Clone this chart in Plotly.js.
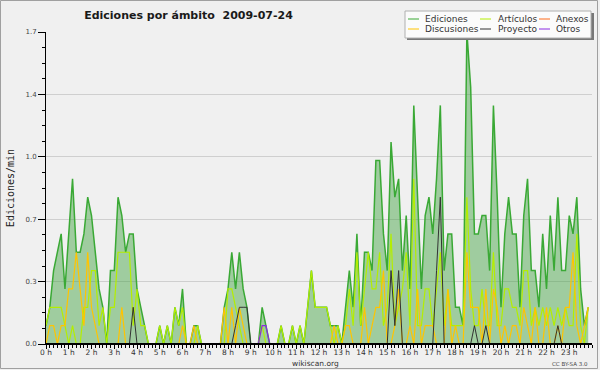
<!DOCTYPE html>
<html><head><meta charset="utf-8">
<script src="https://cdn.plot.ly/plotly-3.0.1.min.js"></script>
<style>html,body{margin:0;padding:0;background:#f0f0f0}#chart{width:600px;height:370px}</style>
</head><body><div id="chart"></div>
<script>
// 10-minute slots, edits per minute
const ediciones = [
 0.1,0.2,0.4,0.5,0.6,0.3,0.6,0.9,0.5,0.5,0.6,0.8,
 0.7,0.5,0.3,0.2,0.0,0.4,0.4,0.8,0.7,0.5,0.6,0.6,
 0.3,0.2,0.1,0,0,0,0.1,0,0.1,0,0.2,0.1,
 0.3,0,0,0.1,0.1,0,0,0,0,0,0,0.2,
 0.3,0.5,0.3,0.5,0.3,0.2,0,0,0,0.2,0.1,0,
 0,0,0.1,0,0,0.1,0,0.1,0,0.2,0.4,0.2,
 0.2,0.2,0.2,0.1,0.1,0.1,0,0.2,0.4,0.2,0.6,0.1,
 0.5,0.5,0.4,1.0,1.0,0.6,0.4,1.1,0.8,0.9,0.4,0.7,
 0.3,1.3,0.8,0.3,0.7,0.8,0.6,0.9,1.3,0.4,0.6,0.6,
 0.2,0.2,0.1,1.7,1.4,0.6,0.6,0.7,0.7,0.4,1.3,0.8,
 0.2,0.6,0.8,0.6,0.6,0.2,0.7,0.9,0.4,0.4,0.2,0.6,
 0.3,0.7,0.4,0.8,0.4,0.4,0.7,0.6,0.8,0.3,0.1,0.2];
const articulos = [
 0.1,0.2,0.2,0.2,0.2,0.1,0,0.1,0,0,0.2,0.2,
 0.4,0.4,0.1,0.2,0,0.2,0.2,0.5,0.5,0.5,0.5,0.1,
 0.3,0.1,0.1,0,0,0,0.1,0,0.1,0,0.2,0.1,
 0.2,0,0,0,0.1,0,0,0,0,0,0,0,
 0.3,0.3,0.2,0.1,0,0,0,0,0,0.1,0,0,
 0,0,0.1,0,0,0.1,0,0.1,0,0.2,0.4,0.2,
 0.2,0.2,0.2,0.1,0,0.1,0,0.1,0.3,0.1,0.5,0.1,
 0.3,0.5,0.3,0.3,0.5,0.1,0.2,0.6,0.1,0.2,0.3,0.5,
 0.1,0.9,0.1,0.1,0.3,0.3,0.1,0.3,0.5,0.1,0.3,0.1,
 0.1,0.1,0.1,0.8,0.3,0.1,0.1,0.3,0.1,0.1,0.5,0.1,
 0.1,0.3,0.3,0.2,0.2,0.1,0.4,0.4,0.1,0.2,0.1,0.2,
 0.1,0.2,0.1,0.2,0.1,0.2,0.1,0.1,0.6,0.1,0,0.2];
const anexos = [
 0,0,0,0,0,0,0,0,0,0,0,0, 0,0,0,0,0,0,0,0,0,0,0,0,
 0,0,0,0,0,0,0,0,0,0,0,0, 0,0,0,0,0,0,0,0,0,0,0,0,
 0,0,0,0,0,0,0,0,0,0,0,0, 0,0,0,0,0,0,0,0,0,0,0,0,
 0,0,0,0,0,0,0,0,0,0,0,0, 0,0,0,0,0,0,0,0,0,0,0,0,
 0,0,0,0,0,0,0,0,0,0,0,0, 0,0,0,0,0,0,0,0,0,0,0,0,
 0,0,0,0,0,0,0,0,0,0,0,0, 0,0,0,0,0,0,0,0,0,0,0,0];
const discusiones = [
 0,0.1,0.1,0,0.1,0.1,0.3,0.3,0.5,0.3,0.1,0.5,
 0.2,0.1,0,0,0,0,0,0,0.2,0,0,0,
 0,0,0,0,0,0,0,0,0,0,0,0,
 0.1,0,0,0.1,0,0,0,0,0,0,0,0.2,
 0,0.2,0,0.2,0.1,0,0,0,0,0,0,0,
 0,0,0,0,0,0,0,0,0,0,0,0,
 0,0,0,0,0.1,0,0,0.1,0.1,0,0,0,
 0.2,0,0.1,0.2,0.2,0.4,0,0,0.1,0.3,0,0,
 0.1,0,0.3,0,0.1,0.1,0.1,0,0,0,0.3,0,
 0.1,0,0,0.5,0.2,0.2,0.2,0,0.3,0,0.3,0.2,
 0,0.1,0,0.1,0.1,0,0.2,0.1,0,0.2,0,0,
 0.2,0,0,0.1,0,0.2,0.2,0.5,0.1,0,0.1,0.2];
const proyecto = [
 0,0,0,0,0,0,0,0,0,0,0,0,
 0,0,0,0,0,0,0,0,0,0,0,0.2,
 0,0,0,0,0,0,0,0,0,0,0,0,
 0,0,0,0,0,0,0,0,0,0,0,0,
 0,0,0.1,0.2,0.2,0.2,0,0,0,0,0,0,
 0,0,0,0,0,0,0,0,0,0,0,0,
 0,0,0,0,0,0,0,0,0,0,0,0,
 0,0,0,0,0,0,0,0.4,0.1,0.4,0,0,
 0,0,0,0,0,0,0,0.4,0.8,0,0,0,
 0,0,0,0,0,0.1,0,0,0.1,0,0,0,
 0,0,0,0,0,0,0,0,0,0,0,0,
 0,0,0,0.1,0,0,0,0,0,0,0,0];
const otros = [
 0,0,0,0,0,0,0,0,0,0,0,0, 0,0,0,0,0,0,0,0,0,0,0,0,
 0,0,0,0,0,0,0,0,0,0,0,0, 0,0,0,0,0,0,0,0,0,0,0,0,
 0,0,0,0,0,0,0,0,0,0.1,0.1,0, 0,0,0,0,0,0,0,0,0,0,0,0,
 0,0,0,0,0,0,0,0,0,0,0,0, 0,0,0,0,0,0,0,0,0,0,0,0,
 0,0,0,0,0,0,0,0,0,0,0,0, 0,0,0,0,0,0,0,0,0,0,0,0,
 0,0,0,0,0,0,0,0,0,0,0,0, 0,0,0,0,0,0,0,0,0,0,0,0];
const hourTicks = [0,1,2,3,4,5,6,7,8,9,10,11,12,13,14,15,16,17,18,19,20,21,22,23];
const hourLabels = hourTicks.map(h => h + ' h');
const yTickVals = [0, 0.34, 0.68, 1.02, 1.36, 1.7];
const yTickText = ['0.0', '0.3', '0.7', '1.0', '1.4', '1.7'];
const seriesNames = ['Ediciones', 'Artículos', 'Anexos', 'Discusiones', 'Proyecto', 'Otros'];

const slotHours = ediciones.map((_, i) => i * 10 / 60);

const colors = {
  Ediciones: '#3aa935', 'Artículos': '#b4ee00', Anexos: '#ff6a1a',
  Discusiones: '#ffc400', Proyecto: '#333333', Otros: '#8a2be2'
};
const values = {
  Ediciones: ediciones, 'Artículos': articulos, Anexos: anexos,
  Discusiones: discusiones, Proyecto: proyecto, Otros: otros
};

const traces = seriesNames.map(name => {
  const t = {
    type: 'scatter', mode: 'lines', name: name, x: slotHours, y: values[name],
    line: {color: colors[name], width: name === 'Ediciones' ? 1.5 : (name === 'Proyecto' ? 1 : 1.2)},
    showlegend: false, hoverinfo: 'x+y+name'
  };
  if (name === 'Ediciones') { t.fill = 'tozeroy'; t.fillcolor = 'rgba(60,160,60,0.45)'; }
  return t;
});

// layout geometry (pixels)
const L = 46, R = 8, T = 32, B = 26, W = 600, H = 370;
const PW = W - L - R, PH = H - T - B;
const px = v => (v - L) / PW;
const py = v => (H - B - v) / PH;

const legendFont = {family: 'DejaVu Sans', size: 9, color: '#333'};
const legendCols = [
  {lineX: 408, textX: 423, items: ['Ediciones', 'Discusiones']},
  {lineX: 480, textX: 496, items: ['Artículos', 'Proyecto']},
  {lineX: 539, textX: 554, items: ['Anexos', 'Otros']}
];
const legendRows = [19, 29];

const shapes = [
  {type: 'rect', xref: 'paper', yref: 'paper', x0: px(407), x1: px(594), y0: py(13), y1: py(40),
   fillcolor: '#777', line: {width: 0}, layer: 'above'},
  {type: 'rect', xref: 'paper', yref: 'paper', x0: px(405), x1: px(591), y0: py(11), y1: py(38),
   fillcolor: '#fbfbfb', line: {color: '#b0b0b0', width: 1}, layer: 'above'},
  {type: 'line', xref: 'paper', yref: 'y', x0: 0, x1: 1, y0: 0, y1: 0, line: {color: '#000', width: 2}, layer: 'above'},
  {type: 'rect', xref: 'paper', yref: 'paper', x0: px(0.5), x1: px(597.5), y0: py(0.5), y1: py(368.5),
   line: {color: '#a0a0a0', width: 1}, layer: 'below'}
];
const annotations = [];
legendCols.forEach(col => {
  col.items.forEach((name, r) => {
    shapes.push({type: 'line', xref: 'paper', yref: 'paper', x0: px(col.lineX), x1: px(col.lineX + 11),
      y0: py(legendRows[r]), y1: py(legendRows[r]), line: {color: colors[name], width: 1}, layer: 'above'});
    annotations.push({xref: 'paper', yref: 'paper', x: px(col.textX), y: py(legendRows[r]),
      xanchor: 'left', yanchor: 'middle', showarrow: false, text: name, font: legendFont});
  });
});
annotations.push({xref: 'paper', yref: 'paper', x: px(315), y: py(363.5), xanchor: 'center', yanchor: 'middle',
  showarrow: false, text: 'wikiscan.org', font: {family: 'DejaVu Sans', size: 7.5, color: '#333'}});
annotations.push({xref: 'paper', yref: 'paper', x: px(590), y: py(364), xanchor: 'right', yanchor: 'middle',
  showarrow: false, text: 'CC BY-SA 3.0', font: {family: 'DejaVu Sans', size: 5.5, color: '#444'}});

const layout = {
  width: W, height: H,
  margin: {l: L, r: R, t: T, b: B, pad: 0},
  paper_bgcolor: '#f0f0f0', plot_bgcolor: '#f0f0f0',
  title: {text: 'Ediciones por ámbito \u00a02009-07-24', x: 188.5 / W, xanchor: 'center',
          xref: 'container', yref: 'container', y: 1 - 15 / H, yanchor: 'middle',
          font: {family: 'DejaVu Sans', size: 11, weight: 'bold', color: '#1a1a1a'}},
  showlegend: false,
  xaxis: {
    range: [0, 24], tickmode: 'array', tickvals: hourTicks, ticktext: hourLabels,
    ticks: 'outside', ticklen: 4, tickcolor: '#000', tickwidth: 1,
    ticklabelstandoff: -3,
    tickfont: {family: 'DejaVu Sans', size: 7.5, color: '#333'},
    showline: true, linecolor: '#000', linewidth: 1, showgrid: false, zeroline: false,
    minor: {tickmode: 'linear', tick0: 0, dtick: 1 / 6, ticks: 'outside', ticklen: 3, tickcolor: '#000', showgrid: false},
    fixedrange: true
  },
  yaxis: {
    range: [0, 1.7], tickmode: 'array', tickvals: yTickVals, ticktext: yTickText,
    ticks: 'outside', ticklen: 7, tickcolor: '#000', tickwidth: 1,
    tickfont: {family: 'DejaVu Sans', size: 7, color: '#444'},
    showline: true, linecolor: '#000', linewidth: 1,
    showgrid: true, gridcolor: '#cfcfcf', gridwidth: 1, zeroline: false,
    minor: {tickmode: 'linear', tick0: 0, dtick: 0.085, ticks: 'outside', ticklen: 3, tickcolor: '#000', showgrid: false},
    title: {text: 'Ediciones/min', standoff: 8, font: {family: 'DejaVu Sans Mono', size: 10, color: '#222'}},
    fixedrange: true
  },
  shapes: shapes,
  annotations: annotations
};

Plotly.newPlot('chart', traces, layout, {displayModeBar: false, staticPlot: true});
</script>
</body></html>
